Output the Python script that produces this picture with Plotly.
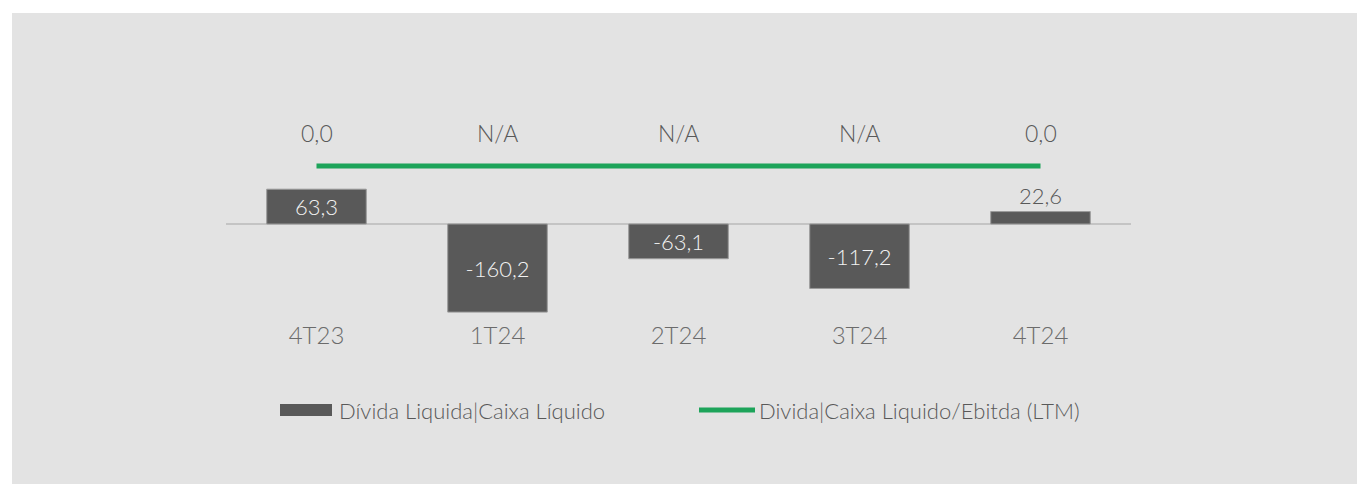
import plotly.graph_objects as go

categories = ["4T23", "1T24", "2T24", "3T24", "4T24"]
divida_values = [63.3, -160.2, -63.1, -117.2, 22.6]
ratio_values = [0.0, 0.0, 0.0, 0.0, 0.0]
ratio_labels = ["0,0", "N/A", "N/A", "N/A", "0,0"]
bar_name = "Dívida Liquida|Caixa Líquido"
line_name = "Divida|Caixa Liquido/Ebitda (LTM)"

OFF = 8  # page body margin
W, H = 1365 - OFF, 484 - OFF
L = 226 - OFF
R = W - (1131 - OFF)
PW = W - L - R

FONT = "Lato"
BAR_COLOR = "#595959"
GREEN = "#1DA45A"


def fmt(v):
    return f"{v:.1f}".replace(".", ",")


def px_x(p):
    return (p - OFF - L) / PW


def px_y(p):
    return (H - (p - OFF)) / H


fig = go.Figure()

fig.add_trace(go.Bar(
    x=categories, y=divida_values,
    width=0.55,
    marker=dict(color=BAR_COLOR, line=dict(color="#9a9a9a", width=1)),
    text=[fmt(v) for v in divida_values],
    textposition=["inside", "inside", "inside", "inside", "outside"],
    insidetextanchor="middle",
    constraintext="none",
    insidetextfont=dict(family=FONT, size=22, color="#F2F2F2", weight=300),
    outsidetextfont=dict(family=FONT, size=22, color="#595959", weight=300),
    cliponaxis=False,
    showlegend=False,
    name=bar_name,
))

fig.add_trace(go.Scatter(
    x=categories, y=ratio_values, yaxis="y2",
    mode="lines",
    line=dict(color=GREEN, width=5),
    showlegend=False,
    name=line_name,
))

annotations = []
for c, v, t in zip(categories, ratio_values, ratio_labels):
    annotations.append(dict(
        x=c, y=v, xref="x", yref="y2", text=t, showarrow=False,
        yshift=33, font=dict(family=FONT, size=23, color="#595959", weight=300),
    ))

# legend (manual)
annotations.append(dict(
    x=px_x(337), y=px_y(410), xref="paper", yref="paper", xanchor="left", yanchor="middle",
    text=bar_name, showarrow=False, font=dict(family=FONT, size=22, color="#595959", weight=300),
))
annotations.append(dict(
    x=px_x(757), y=px_y(410), xref="paper", yref="paper", xanchor="left", yanchor="middle",
    text=line_name, showarrow=False, font=dict(family=FONT, size=22, color="#595959", weight=300),
))

shapes = [
    dict(type="rect", xref="paper", yref="paper", x0=px_x(12), x1=px_x(1365 + 2),
         y0=px_y(484 + 2), y1=px_y(13), fillcolor="#E3E3E3", line=dict(width=0), layer="below"),
    dict(type="rect", xref="paper", yref="paper", x0=px_x(280), x1=px_x(332),
         y0=px_y(416), y1=px_y(404), fillcolor=BAR_COLOR, line=dict(width=0)),
    dict(type="line", xref="paper", yref="paper", x0=px_x(699), x1=px_x(755),
         y0=px_y(410), y1=px_y(410), line=dict(color=GREEN, width=5)),
]

scale = 0.55
zero_px = 224 - OFF
y_top = zero_px / scale
y_bot = -(H - zero_px) / scale

line_px = 166 - OFF
f = (H - line_px) / H

fig.update_layout(
    width=W, height=H,
    margin=dict(l=L, r=R, t=0, b=0),
    paper_bgcolor="white",
    plot_bgcolor="rgba(0,0,0,0)",
    shapes=shapes,
    annotations=annotations,
    xaxis=dict(
        type="category", range=[-0.5, 4.5], anchor="free", position=px_y(319),
        showline=False, showgrid=False, zeroline=False, ticks="",
        tickfont=dict(family=FONT, size=24, color="#6b6b6b", weight=300),
    ),
    yaxis=dict(
        range=[y_bot, y_top], showgrid=False, showticklabels=False,
        zeroline=True, zerolinecolor="#C4C4C4", zerolinewidth=1.5,
    ),
    yaxis2=dict(
        range=[-f, 1 - f], overlaying="y", showgrid=False, showticklabels=False,
        zeroline=False,
    ),
    bargap=0.45,
)

fig.write_html("out.html")
